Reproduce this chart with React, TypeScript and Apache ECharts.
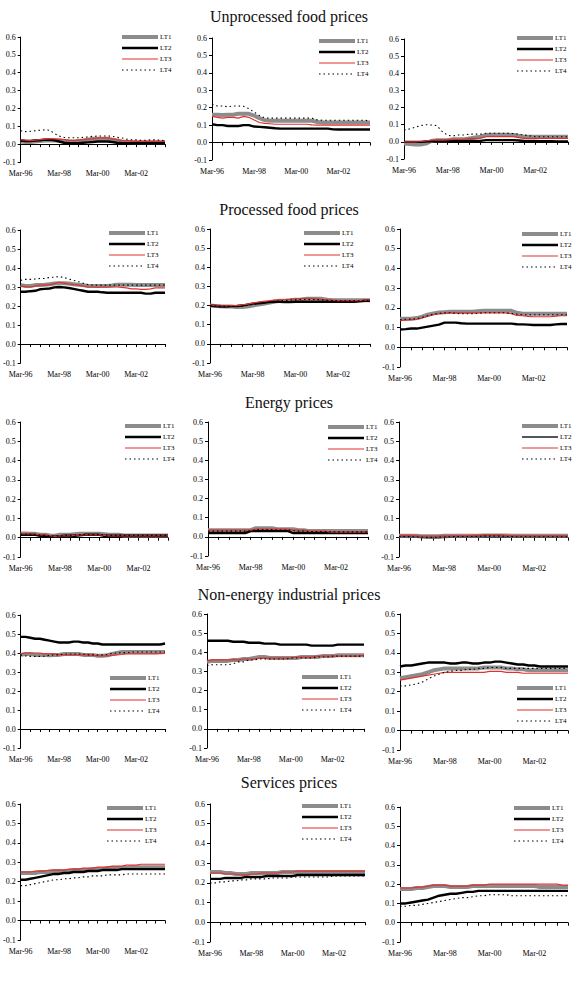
import { useEffect, useRef } from 'react';
import * as echarts from 'echarts';

// Quarterly dates, Mar-96 .. Sep-03
const quarters = [
  'Mar-96', 'Jun-96', 'Sep-96', 'Dec-96', 'Mar-97', 'Jun-97', 'Sep-97', 'Dec-97',
  'Mar-98', 'Jun-98', 'Sep-98', 'Dec-98', 'Mar-99', 'Jun-99', 'Sep-99', 'Dec-99',
  'Mar-00', 'Jun-00', 'Sep-00', 'Dec-00', 'Mar-01', 'Jun-01', 'Sep-01', 'Dec-01',
  'Mar-02', 'Jun-02', 'Sep-02', 'Dec-02', 'Mar-03', 'Jun-03', 'Sep-03',
];

const seriesNames = ['LT1', 'LT2', 'LT3', 'LT4'];
const yTicks = [-0.1, 0.6, 0.1]; // min, max, step

const sectionTitles = [
  'Unprocessed food prices',
  'Processed food prices',
  'Energy prices',
  'Non-energy industrial prices',
  'Services prices',
];

// ---- Unprocessed food ----
const unprocessedA = [
  [0.015, 0.012, 0.012, 0.015, 0.018, 0.02, 0.02, 0.02, 0.02, 0.018, 0.015, 0.015, 0.018, 0.02, 0.025, 0.03, 0.03, 0.03, 0.03, 0.025, 0.02, 0.015, 0.012, 0.01, 0.01, 0.01, 0.01, 0.01, 0.01, 0.01, 0.01],
  [0.02, 0.018, 0.018, 0.02, 0.022, 0.025, 0.025, 0.022, 0.015, 0.008, 0.005, 0.005, 0.005, 0.008, 0.01, 0.012, 0.015, 0.015, 0.015, 0.012, 0.008, 0.005, 0.005, 0.005, 0.005, 0.005, 0.005, 0.005, 0.005, 0.005, 0.005],
  [0.025, 0.022, 0.02, 0.022, 0.025, 0.028, 0.03, 0.03, 0.028, 0.025, 0.022, 0.02, 0.022, 0.025, 0.028, 0.03, 0.035, 0.035, 0.035, 0.03, 0.025, 0.02, 0.02, 0.018, 0.015, 0.015, 0.015, 0.015, 0.015, 0.015, 0.015],
  [0.075, 0.07, 0.072, 0.075, 0.078, 0.08, 0.078, 0.06, 0.045, 0.038, 0.036, 0.036, 0.036, 0.038, 0.04, 0.044, 0.045, 0.046, 0.046, 0.044, 0.038, 0.035, 0.028, 0.025, 0.024, 0.022, 0.022, 0.024, 0.024, 0.022, 0.02],
];
const unprocessedB = [
  [0.16, 0.16, 0.158, 0.16, 0.16, 0.165, 0.165, 0.165, 0.155, 0.14, 0.128, 0.125, 0.125, 0.125, 0.125, 0.125, 0.125, 0.125, 0.125, 0.125, 0.118, 0.115, 0.115, 0.115, 0.115, 0.115, 0.115, 0.115, 0.115, 0.115, 0.115],
  [0.105, 0.1, 0.1, 0.095, 0.095, 0.095, 0.1, 0.1, 0.092, 0.09, 0.088, 0.085, 0.082, 0.08, 0.08, 0.08, 0.08, 0.08, 0.08, 0.08, 0.08, 0.08, 0.08, 0.076, 0.075, 0.075, 0.075, 0.075, 0.075, 0.075, 0.075],
  [0.15, 0.145, 0.14, 0.145, 0.145, 0.14, 0.15, 0.145, 0.13, 0.115, 0.11, 0.108, 0.105, 0.105, 0.105, 0.105, 0.105, 0.105, 0.105, 0.102, 0.1, 0.1, 0.1, 0.1, 0.1, 0.1, 0.1, 0.1, 0.1, 0.1, 0.1],
  [0.22, 0.21, 0.21, 0.205, 0.21, 0.21, 0.208, 0.195, 0.175, 0.155, 0.142, 0.14, 0.14, 0.14, 0.14, 0.14, 0.14, 0.14, 0.14, 0.14, 0.13, 0.128, 0.128, 0.128, 0.128, 0.128, 0.128, 0.128, 0.128, 0.128, 0.125],
];
const unprocessedC = [
  [-0.01, -0.012, -0.015, -0.015, -0.01, 0.005, 0.01, 0.01, 0.01, 0.015, 0.015, 0.015, 0.02, 0.025, 0.03, 0.04, 0.042, 0.042, 0.042, 0.042, 0.04, 0.035, 0.03, 0.03, 0.03, 0.03, 0.03, 0.03, 0.03, 0.03, 0.03],
  [0.0, 0.0, 0.0, 0.0, 0.002, 0.003, 0.005, 0.005, 0.005, 0.005, 0.005, 0.005, 0.005, 0.005, 0.006, 0.01, 0.01, 0.01, 0.01, 0.01, 0.01, 0.008, 0.005, 0.005, 0.005, 0.004, 0.004, 0.004, 0.003, 0.003, 0.003],
  [0.0, 0.0, 0.0, 0.002, 0.005, 0.01, 0.01, 0.01, 0.012, 0.015, 0.015, 0.015, 0.02, 0.02, 0.022, 0.03, 0.03, 0.03, 0.03, 0.03, 0.03, 0.025, 0.02, 0.02, 0.02, 0.02, 0.02, 0.02, 0.02, 0.02, 0.02],
  [0.07, 0.075, 0.085, 0.095, 0.1, 0.098, 0.095, 0.06, 0.038, 0.035, 0.04, 0.04, 0.045, 0.045, 0.045, 0.05, 0.05, 0.05, 0.05, 0.05, 0.048, 0.045, 0.04, 0.035, 0.03, 0.03, 0.03, 0.03, 0.03, 0.03, 0.03],
];

// ---- Processed food ----
const processedA = [
  [0.31, 0.305, 0.305, 0.31, 0.31, 0.312, 0.315, 0.318, 0.32, 0.32, 0.318, 0.315, 0.312, 0.31, 0.305, 0.305, 0.305, 0.305, 0.305, 0.308, 0.312, 0.312, 0.312, 0.312, 0.31, 0.31, 0.31, 0.31, 0.31, 0.31, 0.31],
  [0.275, 0.275, 0.278, 0.28, 0.288, 0.29, 0.292, 0.298, 0.3, 0.298, 0.295, 0.29, 0.285, 0.28, 0.275, 0.275, 0.275, 0.272, 0.27, 0.27, 0.27, 0.27, 0.27, 0.27, 0.27, 0.27, 0.265, 0.265, 0.27, 0.27, 0.27],
  [0.305, 0.302, 0.3, 0.305, 0.31, 0.31, 0.312, 0.318, 0.325, 0.32, 0.315, 0.312, 0.31, 0.305, 0.3, 0.3, 0.298, 0.3, 0.3, 0.3, 0.3, 0.298, 0.295, 0.29, 0.29, 0.288, 0.288, 0.29, 0.295, 0.295, 0.295],
  [0.335, 0.34, 0.34, 0.342, 0.345, 0.345, 0.35, 0.352, 0.355, 0.35, 0.342, 0.335, 0.328, 0.32, 0.312, 0.31, 0.31, 0.31, 0.31, 0.31, 0.31, 0.31, 0.31, 0.31, 0.31, 0.31, 0.31, 0.31, 0.31, 0.31, 0.31],
];
const processedB = [
  [0.2, 0.198, 0.196, 0.195, 0.195, 0.193, 0.193, 0.195, 0.2, 0.205, 0.21, 0.215, 0.22, 0.225, 0.225, 0.228, 0.23, 0.232, 0.235, 0.235, 0.235, 0.235, 0.23, 0.228, 0.228, 0.228, 0.228, 0.228, 0.228, 0.228, 0.228],
  [0.2, 0.198, 0.195, 0.195, 0.197, 0.198, 0.2, 0.205, 0.21, 0.212, 0.215, 0.218, 0.22, 0.22, 0.218, 0.218, 0.22, 0.22, 0.22, 0.22, 0.22, 0.22, 0.22, 0.22, 0.22, 0.22, 0.22, 0.22, 0.222, 0.225, 0.225],
  [0.205, 0.2, 0.198, 0.198, 0.2, 0.2, 0.203, 0.208, 0.213, 0.218, 0.222, 0.225, 0.228, 0.23, 0.23, 0.232, 0.235, 0.237, 0.238, 0.238, 0.235, 0.232, 0.23, 0.228, 0.226, 0.226, 0.226, 0.226, 0.226, 0.228, 0.228],
  [0.2, 0.198, 0.197, 0.196, 0.196, 0.195, 0.196, 0.2, 0.205, 0.21, 0.215, 0.218, 0.222, 0.225, 0.226, 0.228, 0.23, 0.232, 0.232, 0.232, 0.232, 0.23, 0.228, 0.226, 0.225, 0.225, 0.225, 0.225, 0.225, 0.226, 0.226],
];
const processedC = [
  [0.145, 0.145, 0.145, 0.148, 0.155, 0.165, 0.172, 0.176, 0.178, 0.18, 0.18, 0.18, 0.18, 0.18, 0.183, 0.185, 0.185, 0.185, 0.185, 0.185, 0.185, 0.175, 0.17, 0.17, 0.17, 0.17, 0.17, 0.17, 0.17, 0.17, 0.17],
  [0.09, 0.092, 0.095, 0.095, 0.1, 0.105, 0.11, 0.115, 0.125, 0.125, 0.125, 0.122, 0.12, 0.12, 0.12, 0.12, 0.12, 0.12, 0.12, 0.12, 0.12, 0.117, 0.116, 0.115, 0.113, 0.113, 0.113, 0.113, 0.116, 0.118, 0.118],
  [0.135, 0.138, 0.14, 0.142, 0.15, 0.158, 0.165, 0.17, 0.172, 0.175, 0.175, 0.175, 0.175, 0.175, 0.175, 0.175, 0.175, 0.175, 0.175, 0.175, 0.17, 0.162, 0.16, 0.157, 0.155, 0.155, 0.155, 0.155, 0.158, 0.16, 0.16],
  [0.14, 0.142, 0.143, 0.145, 0.152, 0.16, 0.168, 0.172, 0.175, 0.175, 0.172, 0.17, 0.17, 0.17, 0.172, 0.175, 0.175, 0.175, 0.175, 0.175, 0.172, 0.168, 0.165, 0.165, 0.165, 0.165, 0.165, 0.165, 0.165, 0.165, 0.165],
];

// ---- Energy ----
const energyA = [
  [0.022, 0.022, 0.02, 0.02, 0.015, 0.015, 0.012, 0.01, 0.015, 0.015, 0.015, 0.018, 0.02, 0.02, 0.02, 0.02, 0.02, 0.018, 0.015, 0.015, 0.015, 0.012, 0.012, 0.012, 0.012, 0.012, 0.012, 0.012, 0.012, 0.012, 0.012],
  [0.015, 0.015, 0.015, 0.015, 0.01, 0.01, 0.005, 0.005, 0.008, 0.01, 0.01, 0.01, 0.012, 0.015, 0.015, 0.015, 0.015, 0.01, 0.01, 0.01, 0.01, 0.01, 0.01, 0.01, 0.01, 0.01, 0.01, 0.01, 0.01, 0.01, 0.01],
  [0.02, 0.02, 0.02, 0.018, 0.015, 0.015, 0.01, 0.005, 0.01, 0.01, 0.01, 0.012, 0.015, 0.015, 0.015, 0.015, 0.015, 0.012, 0.01, 0.01, 0.01, 0.01, 0.01, 0.01, 0.01, 0.01, 0.01, 0.01, 0.01, 0.01, 0.01],
  [0.018, 0.018, 0.018, 0.016, 0.014, 0.012, 0.01, 0.008, 0.01, 0.012, 0.012, 0.014, 0.016, 0.016, 0.016, 0.016, 0.016, 0.014, 0.012, 0.012, 0.012, 0.012, 0.012, 0.012, 0.012, 0.012, 0.012, 0.012, 0.012, 0.012, 0.012],
];
const energyB = [
  [0.035, 0.035, 0.035, 0.035, 0.035, 0.035, 0.035, 0.035, 0.035, 0.045, 0.045, 0.045, 0.045, 0.04, 0.04, 0.04, 0.04, 0.035, 0.035, 0.03, 0.03, 0.03, 0.03, 0.03, 0.03, 0.03, 0.03, 0.03, 0.03, 0.03, 0.03],
  [0.02, 0.02, 0.02, 0.02, 0.02, 0.02, 0.02, 0.02, 0.03, 0.03, 0.03, 0.03, 0.03, 0.03, 0.03, 0.03, 0.02, 0.02, 0.02, 0.02, 0.02, 0.02, 0.02, 0.02, 0.02, 0.02, 0.02, 0.02, 0.02, 0.02, 0.02],
  [0.035, 0.035, 0.035, 0.035, 0.035, 0.035, 0.035, 0.035, 0.035, 0.04, 0.04, 0.04, 0.04, 0.04, 0.04, 0.04, 0.035, 0.035, 0.035, 0.03, 0.03, 0.03, 0.03, 0.025, 0.025, 0.025, 0.025, 0.025, 0.025, 0.025, 0.025],
  [0.03, 0.03, 0.03, 0.03, 0.03, 0.03, 0.03, 0.03, 0.032, 0.038, 0.038, 0.038, 0.038, 0.036, 0.036, 0.036, 0.032, 0.03, 0.03, 0.028, 0.028, 0.028, 0.028, 0.026, 0.026, 0.026, 0.026, 0.026, 0.026, 0.026, 0.026],
];
const energyC = [
  [0.01, 0.01, 0.01, 0.01, 0.008, 0.008, 0.008, 0.008, 0.01, 0.01, 0.01, 0.01, 0.01, 0.01, 0.01, 0.012, 0.012, 0.012, 0.012, 0.012, 0.01, 0.01, 0.01, 0.01, 0.01, 0.01, 0.01, 0.01, 0.01, 0.01, 0.01],
  [0.005, 0.005, 0.005, 0.004, 0.002, 0.0, 0.0, 0.0, 0.002, 0.004, 0.005, 0.005, 0.005, 0.005, 0.006, 0.01, 0.01, 0.01, 0.01, 0.008, 0.006, 0.005, 0.005, 0.005, 0.005, 0.005, 0.005, 0.005, 0.005, 0.005, 0.005],
  [0.012, 0.012, 0.012, 0.01, 0.008, 0.008, 0.008, 0.008, 0.01, 0.01, 0.01, 0.01, 0.01, 0.012, 0.012, 0.015, 0.015, 0.015, 0.015, 0.012, 0.01, 0.01, 0.01, 0.01, 0.01, 0.01, 0.01, 0.01, 0.01, 0.01, 0.01],
  [0.006, 0.006, 0.005, 0.005, 0.003, 0.002, 0.002, 0.003, 0.004, 0.005, 0.006, 0.006, 0.006, 0.006, 0.007, 0.008, 0.008, 0.008, 0.008, 0.007, 0.006, 0.005, 0.005, 0.005, 0.005, 0.005, 0.005, 0.005, 0.005, 0.005, 0.005],
];

// ---- Non-energy industrial goods ----
const industrialA = [
  [0.39, 0.395, 0.395, 0.39, 0.39, 0.39, 0.388, 0.39, 0.39, 0.395, 0.395, 0.395, 0.395, 0.39, 0.39, 0.39, 0.385, 0.385, 0.388, 0.395, 0.4, 0.405, 0.405, 0.405, 0.405, 0.405, 0.405, 0.405, 0.405, 0.405, 0.405],
  [0.485, 0.485, 0.48, 0.475, 0.475, 0.47, 0.465, 0.46, 0.455, 0.455, 0.455, 0.46, 0.46, 0.455, 0.455, 0.45, 0.45, 0.445, 0.445, 0.445, 0.445, 0.445, 0.445, 0.445, 0.445, 0.445, 0.445, 0.445, 0.445, 0.445, 0.45],
  [0.395, 0.4, 0.4, 0.4, 0.4, 0.395, 0.395, 0.395, 0.39, 0.39, 0.39, 0.39, 0.39, 0.39, 0.39, 0.388, 0.385, 0.385, 0.385, 0.388, 0.39, 0.392, 0.395, 0.395, 0.395, 0.395, 0.395, 0.395, 0.395, 0.397, 0.398],
  [0.39, 0.385, 0.382, 0.382, 0.382, 0.383, 0.388, 0.39, 0.39, 0.395, 0.395, 0.395, 0.395, 0.395, 0.39, 0.39, 0.39, 0.39, 0.392, 0.398, 0.4, 0.402, 0.402, 0.405, 0.405, 0.405, 0.405, 0.405, 0.405, 0.405, 0.405],
];
const industrialB = [
  [0.35, 0.355, 0.355, 0.355, 0.355, 0.36, 0.36, 0.365, 0.365, 0.37, 0.375, 0.375, 0.37, 0.37, 0.37, 0.37, 0.37, 0.37, 0.375, 0.375, 0.375, 0.375, 0.38, 0.38, 0.38, 0.385, 0.385, 0.385, 0.385, 0.385, 0.385],
  [0.46, 0.46, 0.46, 0.46, 0.46, 0.455, 0.455, 0.455, 0.45, 0.45, 0.45, 0.445, 0.445, 0.445, 0.44, 0.44, 0.44, 0.44, 0.44, 0.44, 0.435, 0.435, 0.435, 0.435, 0.435, 0.44, 0.44, 0.44, 0.44, 0.44, 0.44],
  [0.355, 0.36, 0.36, 0.36, 0.36, 0.36, 0.36, 0.365, 0.365, 0.365, 0.37, 0.37, 0.37, 0.37, 0.37, 0.37, 0.37, 0.375, 0.375, 0.375, 0.375, 0.38, 0.38, 0.38, 0.38, 0.38, 0.38, 0.38, 0.38, 0.38, 0.385],
  [0.33, 0.335, 0.335, 0.335, 0.335, 0.34, 0.35, 0.35, 0.36, 0.36, 0.365, 0.365, 0.365, 0.365, 0.365, 0.365, 0.37, 0.37, 0.37, 0.37, 0.37, 0.375, 0.375, 0.375, 0.38, 0.38, 0.38, 0.38, 0.38, 0.38, 0.38],
];
const industrialC = [
  [0.27, 0.275, 0.28, 0.285, 0.29, 0.3, 0.31, 0.315, 0.32, 0.32, 0.32, 0.32, 0.32, 0.32, 0.32, 0.325, 0.325, 0.325, 0.325, 0.32, 0.32, 0.315, 0.315, 0.31, 0.31, 0.31, 0.31, 0.31, 0.31, 0.31, 0.31],
  [0.33, 0.335, 0.335, 0.34, 0.345, 0.35, 0.35, 0.35, 0.35, 0.345, 0.345, 0.35, 0.35, 0.345, 0.345, 0.35, 0.35, 0.355, 0.355, 0.35, 0.345, 0.34, 0.34, 0.335, 0.335, 0.33, 0.33, 0.33, 0.33, 0.33, 0.33],
  [0.26, 0.265, 0.27, 0.275, 0.28, 0.285, 0.29, 0.295, 0.3, 0.3, 0.3, 0.3, 0.3, 0.3, 0.3, 0.3, 0.305, 0.305, 0.305, 0.3, 0.3, 0.3, 0.295, 0.295, 0.295, 0.295, 0.295, 0.295, 0.295, 0.295, 0.295],
  [0.23, 0.23, 0.235, 0.24, 0.25, 0.265, 0.28, 0.29, 0.3, 0.305, 0.31, 0.31, 0.315, 0.315, 0.32, 0.32, 0.325, 0.325, 0.325, 0.32, 0.32, 0.32, 0.32, 0.32, 0.32, 0.32, 0.32, 0.32, 0.32, 0.32, 0.32],
];

// ---- Services ----
const servicesA = [
  [0.245, 0.245, 0.245, 0.245, 0.25, 0.25, 0.25, 0.255, 0.255, 0.255, 0.255, 0.26, 0.26, 0.26, 0.26, 0.265, 0.265, 0.265, 0.27, 0.27, 0.27, 0.27, 0.27, 0.275, 0.275, 0.275, 0.275, 0.275, 0.275, 0.275, 0.275],
  [0.21, 0.21, 0.215, 0.22, 0.225, 0.23, 0.235, 0.24, 0.24, 0.245, 0.245, 0.25, 0.25, 0.25, 0.255, 0.255, 0.255, 0.26, 0.26, 0.26, 0.26, 0.265, 0.265, 0.265, 0.265, 0.265, 0.265, 0.265, 0.265, 0.265, 0.265],
  [0.25, 0.25, 0.25, 0.255, 0.255, 0.255, 0.26, 0.26, 0.26, 0.26, 0.265, 0.265, 0.265, 0.27, 0.27, 0.27, 0.275, 0.275, 0.275, 0.28, 0.28, 0.28, 0.285, 0.285, 0.285, 0.29, 0.29, 0.29, 0.29, 0.29, 0.29],
  [0.18, 0.18, 0.185, 0.19, 0.195, 0.2, 0.205, 0.21, 0.21, 0.215, 0.215, 0.22, 0.22, 0.225, 0.225, 0.23, 0.23, 0.23, 0.235, 0.235, 0.235, 0.235, 0.24, 0.24, 0.24, 0.24, 0.24, 0.24, 0.24, 0.24, 0.24],
];
const servicesB = [
  [0.255, 0.255, 0.255, 0.25, 0.25, 0.245, 0.245, 0.245, 0.25, 0.25, 0.25, 0.25, 0.25, 0.25, 0.255, 0.255, 0.255, 0.255, 0.255, 0.255, 0.255, 0.255, 0.255, 0.255, 0.255, 0.255, 0.255, 0.255, 0.255, 0.255, 0.255],
  [0.22, 0.22, 0.22, 0.225, 0.225, 0.225, 0.225, 0.23, 0.23, 0.23, 0.23, 0.235, 0.235, 0.235, 0.235, 0.235, 0.235, 0.24, 0.24, 0.24, 0.24, 0.24, 0.24, 0.24, 0.24, 0.24, 0.24, 0.24, 0.24, 0.24, 0.24],
  [0.25, 0.25, 0.25, 0.245, 0.245, 0.245, 0.24, 0.24, 0.245, 0.245, 0.25, 0.25, 0.25, 0.25, 0.255, 0.255, 0.255, 0.26, 0.26, 0.26, 0.26, 0.26, 0.26, 0.26, 0.26, 0.26, 0.26, 0.26, 0.26, 0.26, 0.26],
  [0.2, 0.2, 0.205, 0.205, 0.21, 0.21, 0.215, 0.215, 0.22, 0.22, 0.22, 0.22, 0.225, 0.225, 0.225, 0.225, 0.23, 0.23, 0.23, 0.23, 0.23, 0.23, 0.23, 0.23, 0.235, 0.235, 0.235, 0.235, 0.235, 0.235, 0.235],
];
const servicesC = [
  [0.175, 0.175, 0.175, 0.18, 0.18, 0.185, 0.19, 0.19, 0.19, 0.185, 0.185, 0.185, 0.185, 0.19, 0.19, 0.19, 0.19, 0.19, 0.19, 0.19, 0.19, 0.19, 0.19, 0.19, 0.19, 0.185, 0.185, 0.185, 0.185, 0.185, 0.185],
  [0.1, 0.1, 0.105, 0.11, 0.115, 0.12, 0.13, 0.14, 0.145, 0.15, 0.15, 0.155, 0.16, 0.16, 0.165, 0.165, 0.165, 0.165, 0.165, 0.165, 0.165, 0.165, 0.165, 0.165, 0.165, 0.165, 0.165, 0.165, 0.165, 0.165, 0.165],
  [0.18, 0.18, 0.18, 0.185, 0.185, 0.19, 0.195, 0.195, 0.195, 0.19, 0.19, 0.19, 0.19, 0.195, 0.195, 0.195, 0.2, 0.2, 0.2, 0.2, 0.2, 0.2, 0.2, 0.2, 0.2, 0.2, 0.2, 0.2, 0.2, 0.195, 0.195],
  [0.085, 0.085, 0.09, 0.09, 0.095, 0.1, 0.105, 0.11, 0.115, 0.12, 0.125, 0.13, 0.13, 0.135, 0.14, 0.14, 0.145, 0.145, 0.145, 0.145, 0.14, 0.14, 0.14, 0.14, 0.14, 0.14, 0.14, 0.14, 0.14, 0.14, 0.14],
];

const panelData = [
  unprocessedA, unprocessedB, unprocessedC,
  processedA, processedB, processedC,
  energyA, energyB, energyC,
  industrialA, industrialB, industrialC,
  servicesA, servicesB, servicesC,
];

// Panel placement on the page: plot box [left, top, width, height] and legend anchor [x, y]
const panelBoxes = [
  [15, 37, 150, 125], [212, 38, 158, 122], [404, 39, 164, 120],
  [15, 230, 150, 133], [210, 229, 160, 134], [400, 229, 167, 138],
  [15, 422, 153, 135], [208, 422, 160, 134], [399, 422, 169, 135],
  [15, 615, 150, 133], [207, 614, 157, 134], [400, 614, 168, 136],
  [15, 804, 150, 136], [210, 804, 155, 138], [400, 807, 168, 135],
];
const legendAnchors = [
  [120, 37], [317, 41], [515, 38],
  [107, 233], [302, 233], [520, 234],
  [123, 426], [326, 427], [520, 426],
  [108, 678], [300, 677], [515, 688],
  [105, 808], [300, 806], [512, 808],
];
const titleCenters = [17, 210, 403, 595, 783];

const SERIF = "'Liberation Serif', 'Times New Roman', serif";

const lineStyles = [
  { color: '#8c8c8c', width: 4, type: 'solid' as any },
  { color: '#000000', width: 2.4, type: 'solid' as any },
  { color: '#e2312c', width: 1.2, type: 'solid' as any },
  { color: '#000000', width: 1.1, type: [1.5, 3] as any },
];

// The energy panel on the right draws its LT2 line lighter
function styleFor(panel: number, s: number) {
  const st = { ...lineStyles[s] };
  if (panel === 8 && s === 1) {
    st.color = '#555555';
    st.width = 2;
  }
  return st;
}

function buildOption() {
  const grid: any[] = [];
  const xAxis: any[] = [];
  const yAxis: any[] = [];
  const series: any[] = [];
  const legend: any[] = [];

  panelData.forEach((panel, p) => {
    const [left, top, width, height] = panelBoxes[p];
    grid.push({ left, top, width, height, containLabel: false });

    xAxis.push({
      type: 'category',
      gridIndex: p,
      data: quarters,
      boundaryGap: false,
      axisLine: { show: true, onZero: true, lineStyle: { color: '#000', width: 1 } },
      axisTick: {
        show: true,
        length: 3,
        interval: (i: number) => i % 2 === 0,
        lineStyle: { color: '#000', width: 1 },
      },
      axisLabel: {
        show: true,
        interval: (i: number) => i % 8 === 0,
        margin: 7,
        fontFamily: SERIF,
        fontSize: 8,
        color: '#000',
      },
      splitLine: { show: false },
    });
    yAxis.push({
      type: 'value',
      gridIndex: p,
      min: yTicks[0],
      max: yTicks[1],
      interval: yTicks[2],
      axisLine: { show: true, lineStyle: { color: '#000', width: 1 } },
      axisTick: { show: true, length: 3, lineStyle: { color: '#000' } },
      axisLabel: {
        margin: 5,
        fontFamily: SERIF,
        fontSize: 8,
        color: '#000',
        formatter: (v: number) => v.toFixed(1),
      },
      splitLine: { show: false },
    });

    panel.forEach((values, s) => {
      series.push({
        type: 'line',
        name: seriesNames[s],
        xAxisIndex: p,
        yAxisIndex: p,
        data: values,
        symbol: 'none',
        showSymbol: false,
        lineStyle: styleFor(p, s),
        z: 2 + s,
        silent: true,
      });
    });

    const [lx, ly] = legendAnchors[p];
    legend.push({
      orient: 'vertical',
      left: lx,
      top: ly - 3.5,
      padding: 0,
      itemWidth: 36,
      itemHeight: 7,
      itemGap: 4,
      selectedMode: false,
      textStyle: { fontFamily: SERIF, fontSize: 7, color: '#000', padding: [0, 0, 0, -3] },
      data: seriesNames.map((n, s) => ({ name: n, lineStyle: styleFor(p, s), itemStyle: { opacity: 0 } })),
    });
  });

  const title = sectionTitles.map((text, i) => ({
    text,
    left: 289,
    textAlign: 'center',
    top: titleCenters[i] - 9,
    padding: 0,
    textStyle: { fontFamily: SERIF, fontSize: 16, fontWeight: 'normal', color: '#111' },
  }));

  return {
    animation: false,
    backgroundColor: '#ffffff',
    title,
    legend,
    grid,
    xAxis,
    yAxis,
    series,
  };
}

export default function App() {
  const ref = useRef<HTMLDivElement>(null);

  useEffect(() => {
    if (!ref.current) return;
    const chart = echarts.init(ref.current, undefined, { renderer: 'svg' });
    chart.setOption(buildOption() as any);
    return () => chart.dispose();
  }, []);

  return (
    <div
      ref={ref}
      style={{ position: 'absolute', left: 0, top: 0, width: 583, height: 991, background: '#fff' }}
    />
  );
}
